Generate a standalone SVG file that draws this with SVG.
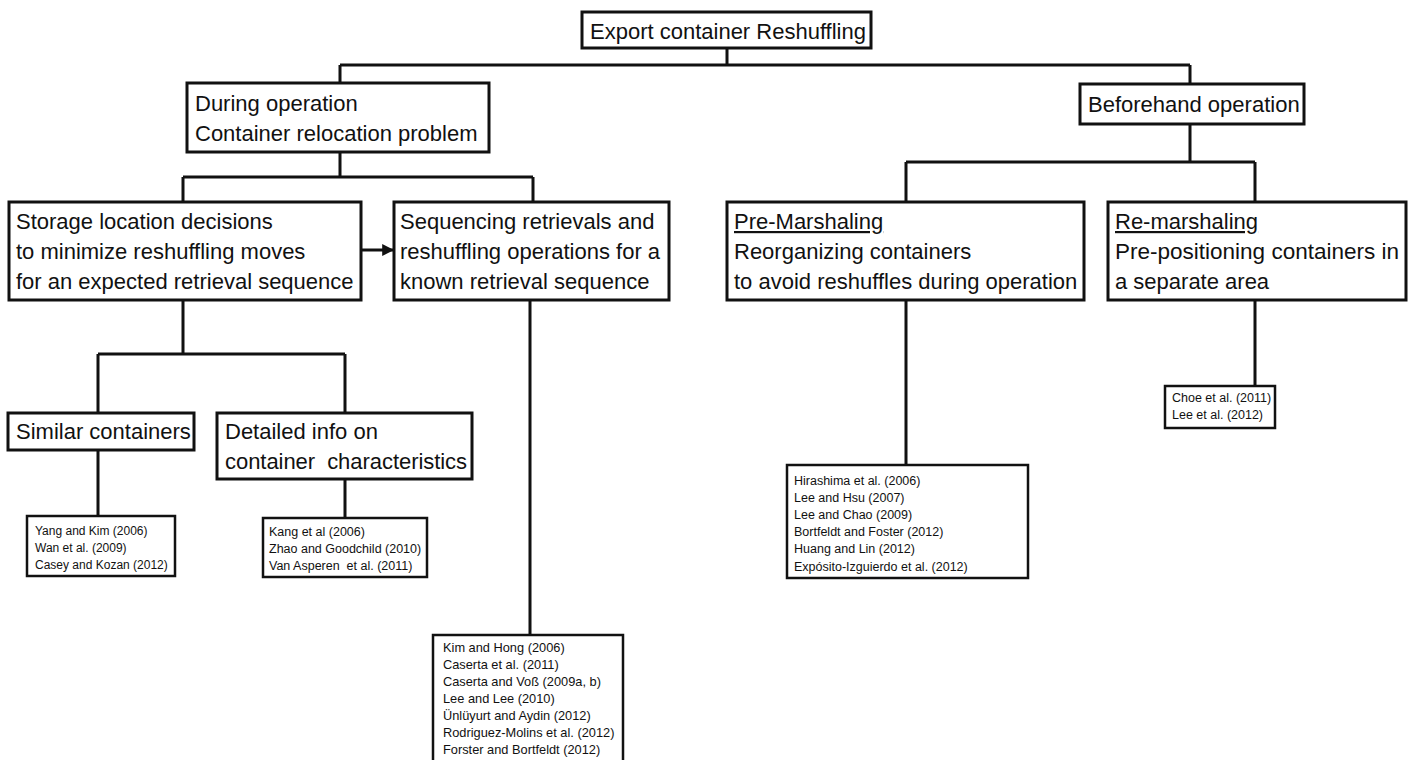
<svg xmlns="http://www.w3.org/2000/svg" width="1410" height="760" viewBox="0 0 1410 760">
<style>
.box{fill:#fff;stroke:#111;stroke-width:3}
.sbox{fill:#fff;stroke:#111;stroke-width:2.5}
.t{font-family:"Liberation Sans",Arial,sans-serif;font-size:22px;fill:#111}
.s{font-family:"Liberation Sans",Arial,sans-serif;font-size:12.5px;fill:#111}
.u{text-decoration:underline}
.c{fill:none;stroke:#111;stroke-width:3}
</style>
<defs>
<marker id="arr" viewBox="0 0 10 10" refX="9" refY="5" markerWidth="4" markerHeight="4" orient="auto"><path d="M0,0 L10,5 L0,10 z" fill="#111"/></marker>
</defs>
<rect width="1410" height="760" fill="#fff"/>
<g id="connectors">
<path class="c" d="M727,48 V65 M340,65 H1190 M340,65 V82 M1190,65 V84"/>
<path class="c" d="M340,152 V177 M183,177 H533 M183,177 V202 M533,177 V202"/>
<path class="c" d="M1190,124 V162 M906,162 H1255 M906,162 V202 M1255,162 V202"/>
<path class="c" d="M183,300 V354 M98,354 H345 M98,354 V413 M345,354 V413"/>
<path class="c" d="M98,450 V516 M345,479 V518"/>
<path class="c" d="M530,300 V635 M906,300 V465 M1255,300 V386"/>
<path class="c" d="M361,250 H393" marker-end="url(#arr)"/>
</g>
<g id="root"><rect class="box" x="582" y="12" width="289" height="36"/><text class="t" x="590" y="39">Export container Reshuffling</text></g>
<g id="during"><rect class="box" x="187" y="83" width="302" height="69"/><text class="t" x="195" y="111">During operation</text><text class="t" x="195" y="141">Container relocation problem</text></g>
<g id="beforehand"><rect class="box" x="1080" y="84" width="224" height="40"/><text class="t" x="1088" y="112">Beforehand operation</text></g>
<g id="storage"><rect class="box" x="9" y="202" width="352" height="98"/><text class="t" x="16" y="229">Storage location decisions</text><text class="t" x="16" y="259">to minimize reshuffling moves</text><text class="t" x="16" y="289">for an expected retrieval sequence</text></g>
<g id="sequencing"><rect class="box" x="394" y="202" width="275" height="98"/><text class="t" x="400" y="229">Sequencing retrievals and</text><text class="t" x="400" y="259">reshuffling operations for a</text><text class="t" x="400" y="289">known retrieval sequence</text></g>
<g id="premarshaling"><rect class="box" x="727" y="202" width="357" height="98"/><text class="t u" x="734" y="229">Pre-Marshaling</text><text class="t" x="734" y="259">Reorganizing containers</text><text class="t" x="734" y="289">to avoid reshuffles during operation</text></g>
<g id="remarshaling"><rect class="box" x="1108" y="202" width="298" height="98"/><text class="t u" x="1115" y="229">Re-marshaling</text><text class="t" x="1115" y="259" textLength="284" lengthAdjust="spacingAndGlyphs">Pre-positioning containers in</text><text class="t" x="1115" y="289">a separate area</text></g>
<g id="similar"><rect class="box" x="8" y="413" width="186" height="37"/><text class="t" x="16" y="439">Similar containers</text></g>
<g id="detailed"><rect class="box" x="217" y="413" width="255" height="66"/><text class="t" x="225" y="439">Detailed info on</text><text class="t" x="225" y="469" xml:space="preserve" textLength="242" lengthAdjust="spacing">container  characteristics</text></g>
<g id="ref-similar"><rect class="sbox" x="27" y="516" width="148" height="60"/><text class="s" x="35" y="535" style="font-size:12px">Yang and Kim (2006)</text><text class="s" x="35" y="552" style="font-size:12px">Wan et al. (2009)</text><text class="s" x="35" y="569" style="font-size:12px">Casey and Kozan (2012)</text></g>
<g id="ref-detailed"><rect class="sbox" x="263" y="518" width="164" height="59"/><text class="s" x="269" y="536">Kang et al (2006)</text><text class="s" x="269" y="553">Zhao and Goodchild (2010)</text><text class="s" x="269" y="570" xml:space="preserve">Van Asperen  et al. (2011)</text></g>
<g id="ref-sequencing"><rect class="sbox" x="433" y="635" width="190" height="140"/><text class="s" x="443" y="652" style="font-size:12.8px">Kim and Hong (2006)</text><text class="s" x="443" y="669" style="font-size:12.8px">Caserta et al. (2011)</text><text class="s" x="443" y="686" style="font-size:12.8px">Caserta and Voß (2009a, b)</text><text class="s" x="443" y="703" style="font-size:12.8px">Lee and Lee (2010)</text><text class="s" x="443" y="720" style="font-size:12.8px">Ünlüyurt and Aydin (2012)</text><text class="s" x="443" y="737" style="font-size:12.8px">Rodriguez-Molins et al. (2012)</text><text class="s" x="443" y="754" style="font-size:12.8px">Forster and Bortfeldt (2012)</text></g>
<g id="ref-premarshaling"><rect class="sbox" x="787" y="465" width="241" height="113"/><text class="s" x="794" y="485">Hirashima et al. (2006)</text><text class="s" x="794" y="502">Lee and Hsu (2007)</text><text class="s" x="794" y="519">Lee and Chao (2009)</text><text class="s" x="794" y="536">Bortfeldt and Foster (2012)</text><text class="s" x="794" y="553">Huang and Lin (2012)</text><text class="s" x="794" y="571">Expósito-Izguierdo et al. (2012)</text></g>
<g id="ref-remarshaling"><rect class="sbox" x="1165" y="386" width="110" height="42"/><text class="s" x="1172" y="402">Choe et al. (2011)</text><text class="s" x="1172" y="419">Lee et al. (2012)</text></g>
</svg>
